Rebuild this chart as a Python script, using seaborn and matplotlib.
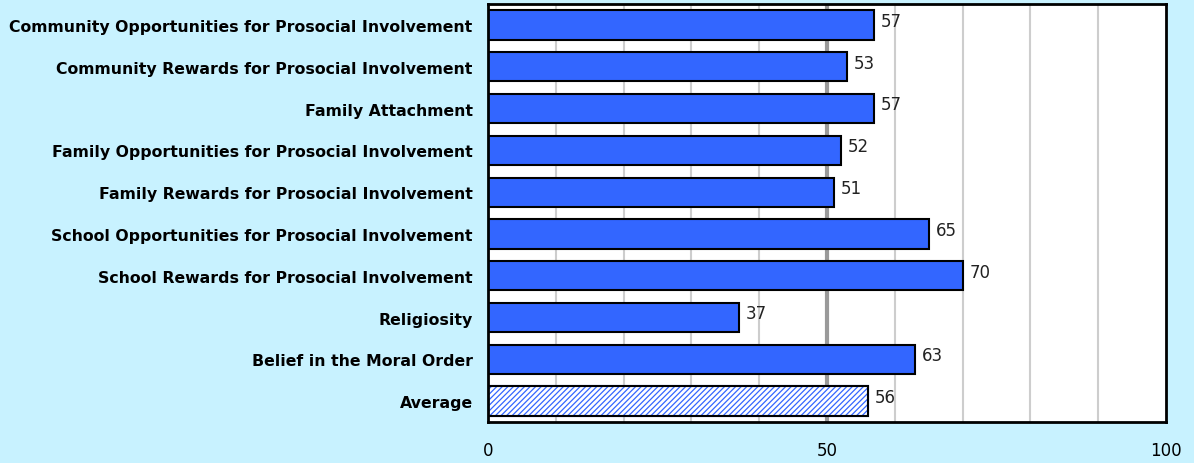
import numpy as np
import pandas as pd
import matplotlib
matplotlib.use("Agg")
import matplotlib.pyplot as plt
from matplotlib.patches import Rectangle
import seaborn as sns

categorias = [
    "Community Opportunities for Prosocial Involvement",
    "Community Rewards for Prosocial Involvement",
    "Family Attachment",
    "Family Opportunities for Prosocial Involvement",
    "Family Rewards for Prosocial Involvement",
    "School Opportunities for Prosocial Involvement",
    "School Rewards for Prosocial Involvement",
    "Religiosity",
    "Belief in the Moral Order",
    "Average",
]
valores = [57, 53, 57, 52, 51, 65, 70, 37, 63, 56]
xticks = [0, 50, 100]

df = pd.DataFrame({"categoria": categorias, "valor": valores})

bg = "#C8F2FF"
azul = "#3366FF"

plt.rcParams["hatch.linewidth"] = 0.9

fig = plt.figure(figsize=(11.94, 4.64), dpi=100, facecolor=bg)
ax = fig.add_axes([0.4087, 0.0884, 0.9765 - 0.4087, 0.989 - 0.0884])
ax.set_facecolor("white")

# rejilla vertical
for g in range(10, 100, 10):
    if g == 50:
        ax.axvline(g, color="#9A9A9A", lw=3, zorder=0)
    else:
        ax.axvline(g, color="#CDCDCD", lw=1.5, zorder=0)

sns.barplot(data=df, x="valor", y="categoria", orient="h", color=azul,
            saturation=1, edgecolor="black", linewidth=1.5, width=0.7, ax=ax, zorder=2)

# barra del promedio: rayado azul (el color del rayado sigue al borde)
avg = ax.patches[-1]
avg.set_facecolor("white")
avg.set_edgecolor(azul)
avg.set_hatch("//////")
ax.add_patch(Rectangle((avg.get_x(), avg.get_y()), avg.get_width(), avg.get_height(),
                       fill=False, edgecolor="black", linewidth=1.5, zorder=2.5))

for i, v in enumerate(valores):
    ax.text(v + 1.0, i - 0.1, f"{v}", va="center", ha="left", fontsize=12,
            color="#222222", zorder=3)

ax.set_xlim(0, 100)
ax.set_ylim(len(categorias) - 0.5, -0.5)
ax.set_xticks(xticks)
ax.set_xticklabels([str(t) for t in xticks], fontsize=12)
ax.tick_params(axis="x", length=0, pad=14)
ax.tick_params(axis="y", length=0, pad=11)
for lbl in ax.get_yticklabels():
    lbl.set_fontweight("bold")
    lbl.set_fontsize(11.3)
ax.set_xlabel("")
ax.set_ylabel("")
for s in ax.spines.values():
    s.set_linewidth(2)
    s.set_color("black")

plt.savefig("out.png", dpi=100, facecolor=bg)
plt.close()
